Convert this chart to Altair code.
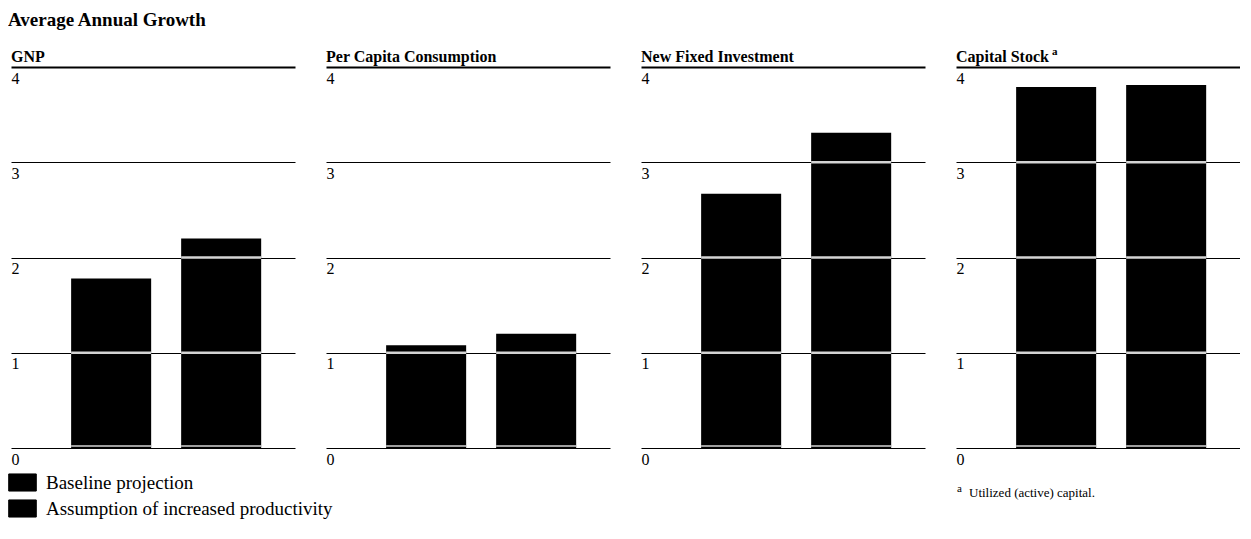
import altair as alt
import pandas as pd

panels = ["GNP", "Per Capita Consumption", "New Fixed Investment", "Capital Stock"]
series = ["Baseline projection", "Assumption of increased productivity"]
baseline = [1.78, 1.08, 2.67, 3.79]
productivity = [2.20, 1.20, 3.31, 3.81]
y_ticks = [0, 1, 2, 3, 4]
main_title = "Average Annual Growth"
footnote_mark = "a"
footnote_text = "Utilized (active) capital."

FONT = "Liberation Serif"
W, H = 284, 381

rows = []
for p, b, q in zip(panels, baseline, productivity):
    rows.append({"panel": p, "series": series[0], "value": b})
    rows.append({"panel": p, "series": series[1], "value": q})
df = pd.DataFrame(rows)

lines = []
for r in rows:
    for t in y_ticks:
        if t < r["value"]:
            lines.append({"panel": r["panel"], "series": r["series"], "level": t})
lines_df = pd.DataFrame(lines)

title_df = pd.DataFrame({"panel": panels})

xenc = alt.X(
    "series:N",
    sort=series,
    scale=alt.Scale(domain=series, paddingInner=0.2727, paddingOuter=0.427, align=0.64),
    axis=None,
)

legend = alt.Legend(
    orient="none", legendX=-3, legendY=H + 20, title=None,
    symbolType="M-1,-0.62H1V0.62H-1Z", symbolSize=760,
    symbolStrokeColor="black", symbolStrokeWidth=1,
    labelFont=FONT, labelFontSize=19, labelColor="black", labelLimit=500,
    labelOffset=9, rowPadding=0, symbolOffset=0,
)


def panel(name, i):
    bars = alt.Chart(df).transform_filter(alt.datum.panel == name).mark_bar(
        color="black"
    ).encode(
        x=xenc,
        y=alt.Y(
            "value:Q",
            scale=alt.Scale(domain=[0, 4], nice=False),
            axis=alt.Axis(
                values=y_ticks, title=None, domain=False, ticks=False, tickSize=0,
                labelAlign="left", labelBaseline="top", labelPadding=0, labelOffset=3,
                labelFont=FONT, labelFontSize=16, labelColor="black", labelFlush=False,
                grid=True, gridColor="black", gridOpacity=1,
                gridWidth={"condition": {"test": "datum.value == 4", "value": 2}, "value": 1},
                format="d",
            ),
        ),
        color=alt.Color("series:N", scale=alt.Scale(domain=series, range=["black", "black"]), legend=legend),
    )
    light = alt.Chart(lines_df).transform_filter(alt.datum.panel == name).transform_calculate(
        lo="datum.level == 0 ? 0.012 : datum.level - 0.012",
        hi="datum.level == 0 ? 0.03 : datum.level + 0.012",
    ).mark_bar(color="#d4d4d4").encode(
        x=xenc, y=alt.Y("lo:Q"), y2=alt.Y2("hi:Q")
    )
    ttl = alt.Chart(title_df).transform_filter(alt.datum.panel == name).mark_text(
        align="left", baseline="alphabetic", font=FONT, fontSize=16, fontWeight="bold", color="black"
    ).encode(text="panel:N", x=alt.value(0), y=alt.value(-5))
    layers = [bars, light, ttl]
    if i == 3:
        note = pd.DataFrame({"mark": [footnote_mark], "text": [footnote_text]})
        sup = alt.Chart(note).mark_text(
            align="left", baseline="alphabetic", font=FONT, fontSize=11, color="black"
        ).encode(text="mark:N", x=alt.value(1), y=alt.value(H + 44))
        txt = alt.Chart(note).mark_text(
            align="left", baseline="alphabetic", font=FONT, fontSize=13, color="black"
        ).encode(text="text:N", x=alt.value(13), y=alt.value(H + 49))
        tsup = alt.Chart(note).mark_text(
            align="left", baseline="alphabetic", font=FONT, fontSize=11, fontWeight="bold", color="black"
        ).encode(text="mark:N", x=alt.value(96), y=alt.value(-12))
        layers += [sup, txt, tsup]
    return alt.layer(*layers).properties(width=W, height=H)


chart = alt.hconcat(*[panel(n, i) for i, n in enumerate(panels)], spacing=31).properties(
    title=alt.TitleParams(
        main_title, anchor="start", font=FONT, fontSize=19, fontWeight="bold",
        color="black", offset=16,
    ),
    padding={"left": 0, "top": 3, "right": 0, "bottom": 0},
    background="white",
).configure_view(strokeWidth=0, stroke="transparent")

chart.save("out.html", embed_options={"renderer": "svg", "actions": False})
